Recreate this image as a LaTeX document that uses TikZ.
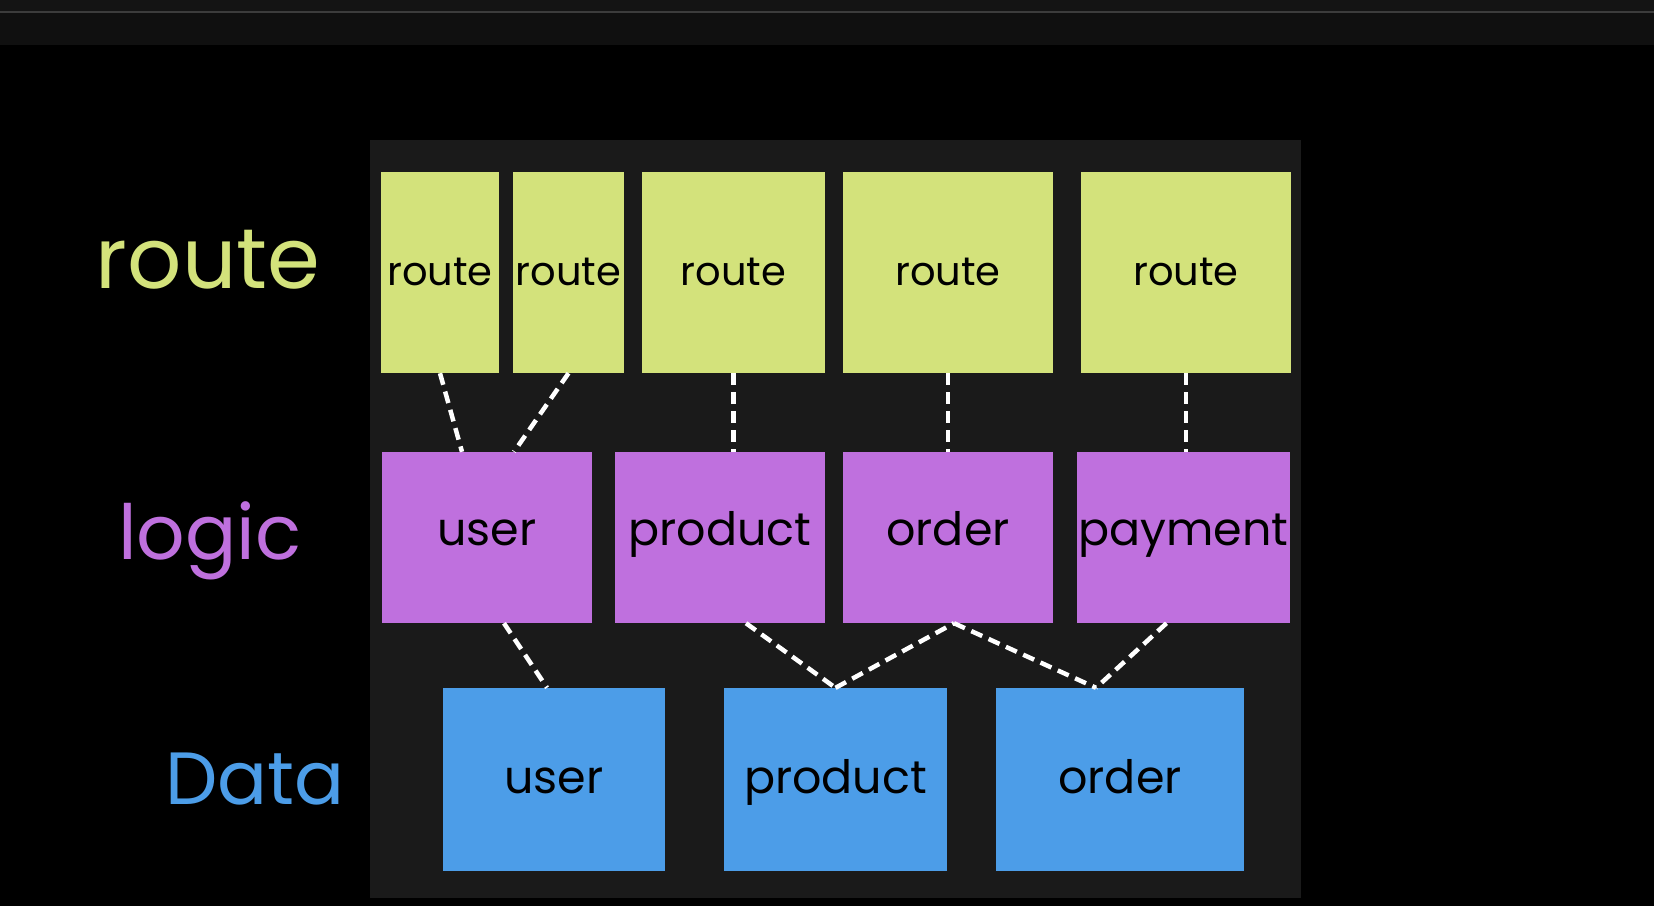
\documentclass[tikz,border=0pt]{standalone}
\usepackage{fontspec}
\setmainfont{Poppins}

\definecolor{routegreen}{HTML}{D3E27B}
\definecolor{logicpurple}{HTML}{BF70DE}
\definecolor{datablue}{HTML}{4C9DE8}
\definecolor{panelgrey}{HTML}{1A1A1A}
\definecolor{bartop}{HTML}{141414}
\definecolor{barline}{HTML}{3C3C3C}
\definecolor{barlow}{HTML}{101010}

\tikzset{
    box/.style={inner sep=0pt, text=black},
    routebox/.style={box, fill=routegreen, minimum height=201pt,
        font=\fontsize{40}{48}\selectfont, text height=25pt, text depth=0pt},
    logicbox/.style={box, fill=logicpurple, minimum height=171pt,
        font=\fontsize{46}{54}\selectfont, text height=15pt, text depth=0pt},
    databox/.style={box, fill=datablue, minimum height=183pt,
        font=\fontsize{46}{54}\selectfont, text height=28pt, text depth=0pt},
    layer/.style={anchor=base},
    link/.style={draw=white, line width=4.5pt, dash pattern=on 12pt off 7pt}
}

\begin{document}
\begin{tikzpicture}[x=1pt,y=-1pt]

\useasboundingbox (0,0) rectangle (1654,906);
\fill[black] (0,0) rectangle (1654,906);
\fill[bartop] (0,0) rectangle (1654,11);
\fill[barline] (0,11) rectangle (1654,13);
\fill[barlow] (0,13) rectangle (1654,45);
\fill[panelgrey] (370,140) rectangle (1301,898);

\node[layer, text=routegreen, font=\fontsize{85}{100}\selectfont] (lroute) at (208,288) {route};
\node[layer, text=logicpurple, font=\fontsize{76}{90}\selectfont] (llogic) at (210,559) {logic};
\node[layer, text=datablue, font=\fontsize{74}{88}\selectfont] (ldata) at (255,804) {Data};

\foreach \n/\x/\w in {r1/440/118, r2/568.5/111, r3/733.5/183, r4/948/210, r5/1186/210}
    \node[routebox, minimum width=\w pt] (\n) at (\x,272.5) {route};

\node[logicbox, minimum width=210pt] (luser) at (487,537.5) {user};
\node[logicbox, minimum width=210pt] (lproduct) at (720,537.5) {product};
\node[logicbox, minimum width=210pt] (lorder) at (948,537.5) {order};
\node[logicbox, minimum width=213pt] (lpayment) at (1183.5,537.5) {payment};

\node[databox, minimum width=222pt] (duser) at (554,779.5) {user};
\node[databox, minimum width=223pt] (dproduct) at (835.5,779.5) {product};
\node[databox, minimum width=248pt] (dorder) at (1120,779.5) {order};

\draw[link] (r1.south) -- ([xshift=-25pt]luser.north);
\draw[link] (r2.south) -- ([xshift=27pt]luser.north);
\draw[link] (r3.south) -- ([xshift=13.5pt]lproduct.north);
\draw[link] (r4.south) -- (lorder.north);
\draw[link] (r5.south) -- ([xshift=2.5pt]lpayment.north);

\draw[link] ([xshift=17pt]luser.south) -- ([xshift=-7pt]duser.north);
\draw[link] ([xshift=26pt]lproduct.south) -- (dproduct.north);
\draw[link] (dproduct.north) -- ([xshift=6pt]lorder.south);
\draw[link] ([xshift=6pt]lorder.south) -- ([xshift=-24pt]dorder.north);
\draw[link] ([xshift=-17pt]lpayment.south) -- ([xshift=-24pt]dorder.north);

\end{tikzpicture}
\end{document}
